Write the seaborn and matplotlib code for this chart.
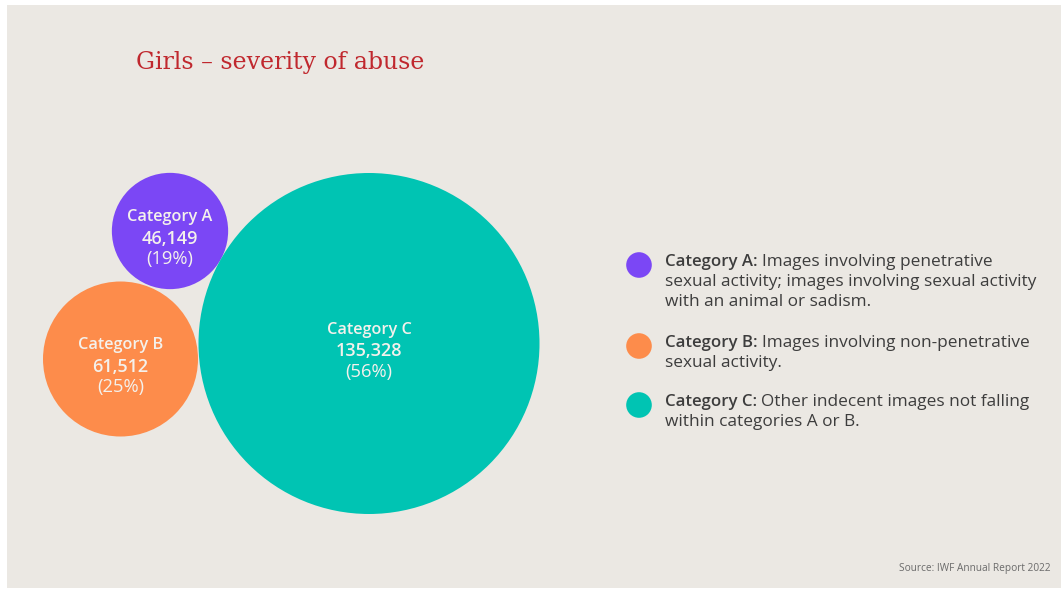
import matplotlib
matplotlib.use("Agg")
import matplotlib.pyplot as plt
from matplotlib.patches import Circle, Rectangle
import seaborn as sns
import pandas as pd

# Data
categories = ["Category A", "Category B", "Category C"]
counts = [46149, 61512, 135328]
percents = [19, 25, 56]
descriptions = [
    ["Images involving penetrative", "sexual activity; images involving sexual activity", "with an animal or sadism."],
    ["Images involving non-penetrative", "sexual activity."],
    ["Other indecent images not falling", "within categories A or B."],
]
title = "Girls \u2013 severity of abuse"
source = "Source: IWF Annual Report 2022"

# Styling / layout (figure pixel coordinates)
colors = ["#7b47f5", "#fd8c4b", "#00c4b3"]
bg = "#ebe8e3"
bubble_centers = [(170, 231), (120.5, 359), (369, 343.5)]
px_per_unit = 170.5 / 135328          # bubble radius grows linearly with the count
legend_x_dot = 639
legend_x_text = 665
legend_first_line = [262, 343, 402]
legend_line_gap = 20.2

sns.set_theme(style="white")
plt.rcParams["font.family"] = ["Open Sans", "DejaVu Sans"]

W, H = 1063, 590
fig = plt.figure(figsize=(W / 100, H / 100), dpi=100, facecolor="white")
ax = fig.add_axes([0, 0, 1, 1])
ax.set_xlim(0, W)
ax.set_ylim(H, 0)
ax.axis("off")

ax.add_patch(Rectangle((7, 5), 1054, 583, facecolor=bg, edgecolor="none", zorder=0))

# Bubbles
label_color = "#f4f1ec"
for cat, n, p, col, (cx, cy) in zip(categories, counts, percents, colors, bubble_centers):
    r = n * px_per_unit
    ax.add_patch(Circle((cx, cy), r, facecolor=col, edgecolor="none", zorder=2))
    ax.text(cx, cy - 14, cat, ha="center", va="center", fontsize=11.7, fontweight="semibold",
            color=label_color, zorder=3)
    ax.text(cx, cy + 8, f"{n:,}", ha="center", va="center", fontsize=13, fontweight="semibold",
            color=label_color, zorder=3)
    ax.text(cx, cy + 28, f"({p}%)", ha="center", va="center", fontsize=13.2,
            color=label_color, zorder=3)

# Legend dots
legend_df = pd.DataFrame({
    "x": [legend_x_dot] * len(categories),
    "y": [y + 3 for y in legend_first_line],
    "category": categories,
})
sns.scatterplot(data=legend_df, x="x", y="y", hue="category", palette=colors, s=340,
                edgecolor="none", legend=False, ax=ax, zorder=3)
ax.set_xlim(0, W)
ax.set_ylim(H, 0)
ax.axis("off")

# Legend texts: bold lead-in followed by the description
fig.canvas.draw()
renderer = fig.canvas.get_renderer()
inv = ax.transData.inverted()
text_color = "#3d3d3d"
for cat, lines, y0 in zip(categories, descriptions, legend_first_line):
    lead = ax.text(legend_x_text, y0, cat + ":", ha="left", va="center", fontsize=12.1,
                   fontweight="semibold", color=text_color, zorder=3)
    bb = lead.get_window_extent(renderer=renderer)
    x_end = inv.transform((bb.x1, bb.y0))[0]
    ax.text(x_end + 4, y0, lines[0], ha="left", va="center", fontsize=12.4, color=text_color, zorder=3)
    for i, line in enumerate(lines[1:], start=1):
        ax.text(legend_x_text, y0 + i * legend_line_gap, line, ha="left", va="center",
                fontsize=12.4, color=text_color, zorder=3)

# Title and source
ax.text(136, 63, title, ha="left", va="center", fontsize=17, color="#c0282e",
        family=["DejaVu Serif"], zorder=3)
ax.text(1051, 569, source, ha="right", va="center", fontsize=7.3, color="#6a6a6a", zorder=3)

fig.savefig("out.png", dpi=100, facecolor="white")
